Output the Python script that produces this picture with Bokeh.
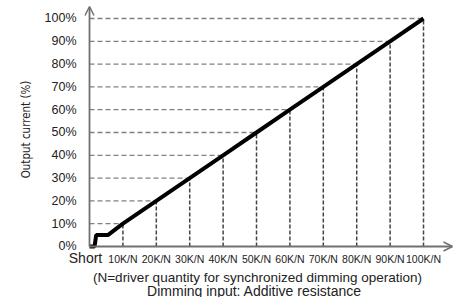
import math
from bokeh.plotting import figure
from bokeh.models import Range1d, FixedTicker, Arrow, OpenHead, Label
from bokeh.core.properties import value
from bokeh.embed import file_html
from bokeh.resources import INLINE

# ---- data ----
x_ticks = [0, 10, 20, 30, 40, 50, 60, 70, 80, 90, 100]
x_labels = ["Short", "10K/N", "20K/N", "30K/N", "40K/N", "50K/N",
            "60K/N", "70K/N", "80K/N", "90K/N", "100K/N"]
y_ticks = [0, 10, 20, 30, 40, 50, 60, 70, 80, 90, 100]
y_labels = ["0%", "10%", "20%", "30%", "40%", "50%", "60%", "70%", "80%", "90%", "100%"]
curve_x = [0, 1.5, 2.0, 5.5, 10, 20, 30, 40, 50, 60, 70, 80, 90, 100]
curve_y = [0, 0, 5, 5, 10, 20, 30, 40, 50, 60, 70, 80, 90, 100]
guide_x = [10, 20, 30, 40, 50, 60, 70, 80, 90, 100]
guide_y = [10, 20, 30, 40, 50, 60, 70, 80, 90, 100]
y_title = "Output current (%)"
note_line = "(N=driver quantity for synchronized dimming operation)"
x_title = "Dimming input: Additive resistance"

W, H = 465, 297
# ranges (frame covers the whole canvas; axes drawn at 0)
X_START, X_END = -26.65, 112.57
Y_START, Y_END = -22.37, 107.89
X_ARROW = 108.68
Y_ARROW = 105.26

p = figure(width=W, height=H, output_backend="svg", toolbar_location=None,
           x_range=Range1d(X_START, X_END), y_range=Range1d(Y_START, Y_END),
           min_border_left=0, min_border_right=0, min_border_top=0,
           min_border_bottom=0)
p.outline_line_color = None
p.xgrid.visible = False
p.ygrid.visible = False
p.xaxis.visible = False

ax = p.yaxis[0]
ax.fixed_location = 0
ax.axis_line_color = None
ax.major_tick_line_color = None
ax.minor_tick_line_color = None
ax.major_label_text_font = "Liberation Sans"
ax.major_label_text_color = "#222222"
ax.ticker = FixedTicker(ticks=y_ticks)
ax.major_label_overrides = {t: l for t, l in zip(y_ticks, y_labels)}
ax.major_label_text_font_size = "12.5px"
ax.major_label_standoff = 7

# guide dashed lines
p.segment(x0=[0] * len(guide_x), y0=guide_y, x1=guide_x, y1=guide_y,
          line_color="#808080", line_width=1.3, line_dash="5 3")
p.segment(x0=guide_x, y0=[0] * len(guide_x), x1=guide_x, y1=guide_y,
          line_color="#444444", line_width=1.5, line_dash="4 2")

# axis lines with open arrow heads
p.add_layout(Arrow(end=OpenHead(size=9, line_color="#707070", line_width=1.5),
                   x_start=0, y_start=0, x_end=X_ARROW, y_end=0,
                   line_color="#707070", line_width=1.8))
p.add_layout(Arrow(end=OpenHead(size=9, line_color="#707070", line_width=1.5),
                   x_start=0, y_start=0, x_end=0, y_end=Y_ARROW,
                   line_color="#707070", line_width=1.8))

# main curve
p.line(curve_x, curve_y, line_color="black", line_width=4)

# x tick labels (placed through the data scale, offset below the axis)
p.text(x=x_ticks[1:], y=[0] * (len(x_ticks) - 1), text=x_labels[1:],
       y_offset=13, text_font=value("Liberation Sans"), text_font_size="10.5px",
       text_color="#222222", text_align="center", text_baseline="middle")
p.text(x=x_ticks[:1], y=[0], text=x_labels[:1], x_offset=-4,
       y_offset=12, text_font=value("Liberation Sans"), text_font_size="14px",
       text_color="#222222", text_align="center", text_baseline="middle")

# texts
p.add_layout(Label(x=257, y=H - 277, x_units="screen", y_units="screen", text=note_line,
                   text_font="Liberation Sans", text_font_size="13.5px",
                   text_color="#222222", text_align="center", text_baseline="middle"))
p.add_layout(Label(x=254, y=H - 290, x_units="screen", y_units="screen", text=x_title,
                   text_font="Liberation Sans", text_font_size="14px",
                   text_color="#222222", text_align="center", text_baseline="middle"))
p.add_layout(Label(x=25, y=H - 129, x_units="screen", y_units="screen", text=y_title,
                   angle=math.pi / 2,
                   text_font="DejaVu Sans Condensed, Liberation Sans", text_font_size="11.5px",
                   text_color="#222222", text_align="center", text_baseline="middle"))

open("out.html", "w").write(file_html(p, INLINE))
